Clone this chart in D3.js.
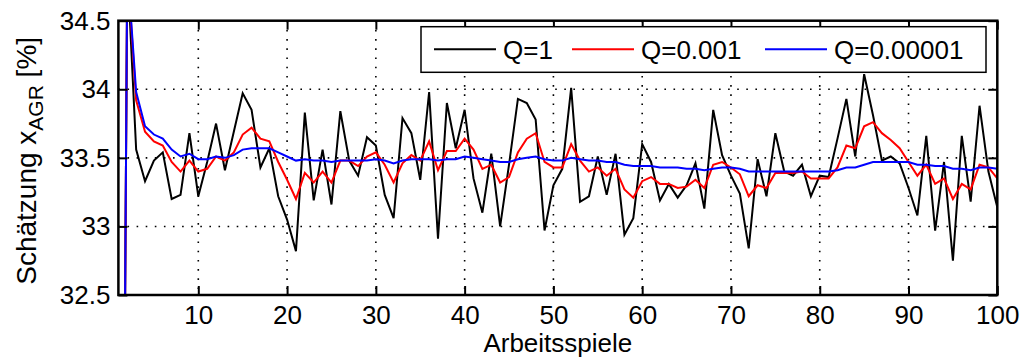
<!DOCTYPE html>
<html>
<head>
<meta charset="utf-8">
<script src="https://cdn.jsdelivr.net/npm/d3@7"></script>
<style>
  body { margin: 0; background: #fff; }
  svg { display: block; font-family: "Liberation Sans", Arial, sans-serif; }
</style>
</head>
<body>
<div id="chart"></div>
<script>
// estimates of x_AGR per work cycle (1..100)
var seriesNames = ["Q=1", "Q=0.001", "Q=0.00001"];
var seriesColors = ["#000000", "#ff0000", "#0000ff"];

var q1 = [25, 34.9, 33.56, 33.33, 33.48, 33.54, 33.20, 33.23, 33.68, 33.22,
  33.47, 33.75, 33.41, 33.69, 33.97, 33.85, 33.43, 33.57, 33.22, 33.05,
  32.82, 33.83, 33.19, 33.56, 33.16, 33.84, 33.48, 33.37, 33.65, 33.59,
  33.23, 33.06, 33.79, 33.68, 33.34, 33.98, 32.91, 33.90, 33.57, 33.85,
  33.35, 33.10, 33.53, 33.00, 33.45, 33.93, 33.90, 33.78, 32.97, 33.30,
  33.42, 34.01, 33.18, 33.22, 33.51, 33.23, 33.53, 32.94, 33.06, 33.60,
  33.47, 33.19, 33.31, 33.21, 33.30, 33.46, 33.13, 33.85, 33.52, 33.37,
  33.24, 32.84, 33.49, 33.22, 33.68, 33.40, 33.37, 33.45, 33.22, 33.37,
  33.36, 33.64, 33.93, 33.51, 34.11, 33.81, 33.48, 33.51, 33.46, 33.28,
  33.08, 33.66, 32.97, 33.47, 32.75, 33.66, 33.18, 33.88, 33.40, 33.14];

var q001 = [25, 34.9, 33.92, 33.69, 33.62, 33.59, 33.47, 33.40, 33.48, 33.40,
  33.42, 33.51, 33.48, 33.54, 33.67, 33.72, 33.64, 33.62, 33.47, 33.34,
  33.20, 33.39, 33.32, 33.40, 33.32, 33.48, 33.48, 33.44, 33.51, 33.54,
  33.45, 33.32, 33.46, 33.52, 33.48, 33.62, 33.41, 33.55, 33.55, 33.64,
  33.56, 33.42, 33.45, 33.32, 33.36, 33.54, 33.64, 33.68, 33.47, 33.43,
  33.43, 33.60, 33.48, 33.40, 33.43, 33.37, 33.42, 33.27, 33.21, 33.33,
  33.36, 33.31, 33.31, 33.28, 33.29, 33.34, 33.28, 33.45, 33.47, 33.43,
  33.38, 33.22, 33.30, 33.28, 33.39, 33.39, 33.39, 33.40, 33.35, 33.35,
  33.35, 33.43, 33.59, 33.57, 33.73, 33.76, 33.68, 33.63, 33.57, 33.47,
  33.37, 33.45, 33.31, 33.35, 33.20, 33.31, 33.27, 33.45, 33.43, 33.35];

var q00001 = [25, 34.9, 33.98, 33.73, 33.67, 33.64, 33.56, 33.51, 33.53, 33.49,
  33.49, 33.51, 33.50, 33.52, 33.56, 33.57, 33.57, 33.57, 33.54, 33.51,
  33.48, 33.49, 33.48, 33.48, 33.47, 33.48, 33.48, 33.48, 33.48, 33.49,
  33.48, 33.46, 33.48, 33.49, 33.49, 33.49, 33.48, 33.49, 33.49, 33.51,
  33.50, 33.49, 33.48, 33.47, 33.47, 33.49, 33.50, 33.51, 33.49, 33.48,
  33.48, 33.50, 33.49, 33.48, 33.48, 33.47, 33.47, 33.45, 33.44, 33.44,
  33.44, 33.43, 33.43, 33.43, 33.42, 33.42, 33.41, 33.42, 33.43, 33.43,
  33.42, 33.40, 33.40, 33.40, 33.40, 33.40, 33.40, 33.40, 33.40, 33.40,
  33.40, 33.41, 33.43, 33.43, 33.45, 33.47, 33.47, 33.47, 33.47, 33.47,
  33.45, 33.45, 33.44, 33.44, 33.42, 33.42, 33.41, 33.43, 33.43, 33.42];

var xTicks = [10, 20, 30, 40, 50, 60, 70, 80, 90, 100];
var yTicks = [32.5, 33, 33.5, 34, 34.5];
var yTickLabels = ["32.5", "33", "33.5", "34", "34.5"];

var W = 1022, H = 360;
var margin = { top: 20.7, right: 24.7, bottom: 65, left: 118.4 };
var width = W - margin.left - margin.right;
var height = H - margin.top - margin.bottom;
var font = 26;

var svg = d3.select("#chart").append("svg")
  .attr("width", W)
  .attr("height", H);

svg.append("rect").attr("width", W).attr("height", H).attr("fill", "#fff");

var x = d3.scaleLinear().domain([1, 100]).range([0, width]);
var y = d3.scaleLinear().domain([32.5, 34.5]).range([height, 0]);

var g = svg.append("g")
  .attr("transform", "translate(" + margin.left + "," + margin.top + ")");

g.append("defs").append("clipPath").attr("id", "plotclip")
  .append("rect").attr("width", width).attr("height", height);

// dotted grid
g.append("g").selectAll("line")
  .data(xTicks.filter(function(d) { return d < 100; }))
  .enter().append("line")
  .attr("x1", function(d) { return x(d); })
  .attr("x2", function(d) { return x(d); })
  .attr("y1", 0).attr("y2", height)
  .attr("stroke", "#000").attr("stroke-width", 1.6)
  .attr("stroke-dasharray", "1.6,7.6");

g.append("g").selectAll("line")
  .data(yTicks.filter(function(d) { return d > 32.5 && d < 34.5; }))
  .enter().append("line")
  .attr("x1", 0).attr("x2", width)
  .attr("y1", function(d) { return y(d); })
  .attr("y2", function(d) { return y(d); })
  .attr("stroke", "#000").attr("stroke-width", 1.6)
  .attr("stroke-dasharray", "1.6,7.5");

// series
var line = d3.line()
  .x(function(d, i) { return x(i + 1); })
  .y(function(d) { return y(d); });

var lines = g.append("g").attr("clip-path", "url(#plotclip)");
[q1, q001, q00001].forEach(function(s, k) {
  lines.append("path")
    .datum(s)
    .attr("fill", "none")
    .attr("stroke", seriesColors[k])
    .attr("stroke-width", 2)
    .attr("stroke-linejoin", "miter")
    .attr("d", line);
});

// axes, ticks inside like matlab
function styleAxis(sel) {
  sel.select(".domain").remove();
  sel.selectAll(".tick line").attr("stroke", "#000").attr("stroke-width", 2);
  sel.selectAll("text").attr("font-size", font).attr("fill", "#000")
    .attr("font-family", "Liberation Sans, Arial, sans-serif");
}

var xAxis = d3.axisBottom(x).tickValues(xTicks).tickSizeInner(-9).tickSizeOuter(0).tickPadding(11);
g.append("g").attr("transform", "translate(0," + height + ")").call(xAxis).call(styleAxis);

g.append("g").call(d3.axisTop(x).tickValues(xTicks).tickSizeInner(-9).tickSizeOuter(0).tickFormat(""))
  .call(styleAxis);

var yAxis = d3.axisLeft(y).tickValues(yTicks).tickSizeInner(-9).tickSizeOuter(0).tickPadding(8)
  .tickFormat(function(d, i) { return yTickLabels[i]; });
g.append("g").call(yAxis).call(styleAxis);

g.append("g").attr("transform", "translate(" + width + ",0)")
  .call(d3.axisRight(y).tickValues(yTicks).tickSizeInner(-9).tickSizeOuter(0).tickFormat(""))
  .call(styleAxis);

g.append("rect")
  .attr("width", width).attr("height", height)
  .attr("fill", "none").attr("stroke", "#000").attr("stroke-width", 2.5);

// legend
var legend = svg.append("g").attr("transform", "translate(421,26.7)");
legend.append("rect")
  .attr("width", 565).attr("height", 45.6)
  .attr("fill", "#fff").attr("stroke", "#000").attr("stroke-width", 1.5);

var legendLineX = [13, 151, 344];
seriesNames.forEach(function(name, k) {
  legend.append("line")
    .attr("x1", legendLineX[k]).attr("x2", legendLineX[k] + 62)
    .attr("y1", 22.5).attr("y2", 22.5)
    .attr("stroke", seriesColors[k]).attr("stroke-width", 2);
  legend.append("text")
    .attr("x", legendLineX[k] + 69).attr("y", 32)
    .attr("font-size", font)
    .text(name);
});

// axis titles
svg.append("text")
  .attr("x", margin.left + width / 2).attr("y", 352)
  .attr("text-anchor", "middle")
  .attr("font-size", font)
  .text("Arbeitsspiele");

var yl = svg.append("text")
  .attr("transform", "translate(36," + (margin.top + height / 2 + 3) + ") rotate(-90)")
  .attr("text-anchor", "middle")
  .attr("font-size", 28);
yl.append("tspan").text("Schätzung x");
yl.append("tspan").attr("font-size", 21).attr("dy", 7).text("AGR");
yl.append("tspan").attr("dy", -7).text(" [%]");
</script>
</body>
</html>
